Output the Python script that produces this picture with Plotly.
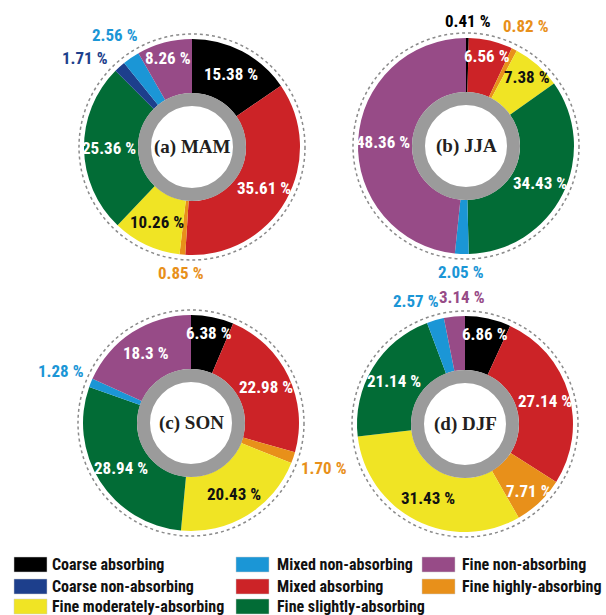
import math
import plotly.graph_objects as go

# ---- data ----
categories = ["Coarse absorbing", "Mixed absorbing", "Fine highly-absorbing",
              "Fine moderately-absorbing", "Fine slightly-absorbing",
              "Coarse non-absorbing", "Mixed non-absorbing", "Fine non-absorbing"]
colors = ["#000000", "#cc2327", "#e8901a", "#f0e424",
          "#026c36", "#1d3f8c", "#1b96d6", "#974b87"]
mam = ["15.38", "35.61", "0.85", "10.26", "25.36", "1.71", "2.56", "8.26"]
jja = ["0.41", "6.56", "0.82", "7.38", "34.43", "0", "2.05", "48.36"]
son = ["6.38", "22.98", "1.70", "20.43", "28.94", "0", "1.28", "18.3"]
djf = ["6.86", "27.14", "7.71", "31.43", "21.14", "0", "2.57", "3.14"]
season_titles = ["(a) MAM", "(b) JJA", "(c) SON", "(d) DJF"]

legend_cols = [
    ["Coarse absorbing", "Coarse non-absorbing", "Fine moderately-absorbing"],
    ["Mixed non-absorbing", "Mixed absorbing", "Fine slightly-absorbing"],
    ["Fine non-absorbing", "Fine highly-absorbing"],
]

# ---- layout geometry (pixels) ----
W, H = 606, 615
centers = [(192, 147), (466, 146), (191, 423), (465, 424)]
R = 108
RING_IN, RING_OUT = 41, 54
DOT_R = 113
LBL_W, LBL_H = 46, 16   # approx. box of an outside label

NARROW = "Roboto Condensed, Liberation Sans Narrow, DejaVu Sans Condensed, Liberation Sans, sans-serif"
SERIF = "Liberation Serif, DejaVu Serif, serif"


def fx(px):
    return px / W


def fy(py):
    return 1 - py / H


fig = go.Figure()
shapes = []
annotations = []


def label(x, y, text, font, xanchor="center"):
    annotations.append(dict(x=fx(x), y=fy(y), xref="paper", yref="paper",
                            xanchor=xanchor, yanchor="middle", showarrow=False,
                            text=text, font=font))


def off_vertical(a):
    a = a % 360
    return min(a, abs(180 - a), 360 - a)


for vals, title, (cx, cy) in zip([mam, jja, son, djf], season_titles, centers):
    v = [float(s) for s in vals]
    total = sum(v)
    fig.add_trace(go.Pie(
        labels=categories, values=v, textinfo="none",
        sort=False, direction="clockwise", rotation=0, hole=RING_OUT / R,
        marker=dict(colors=colors, line=dict(width=0)),
        domain=dict(x=[fx(cx - R), fx(cx + R)], y=[fy(cy + R), fy(cy - R)]),
        showlegend=False, hoverinfo="label+value",
    ))

    # slice labels, placed from the slice mid-angles
    cum = 0.0
    outside = []
    for s, x, col in zip(vals, v, colors):
        if x <= 0:
            continue
        theta = 360.0 * (cum + x / 2) / total
        cum += x
        if x >= 4:
            r = 83 if x >= 10 else 92
            tcol = "#111111" if col == "#f0e424" else "white"
            t = math.radians(theta)
            label(cx + r * math.sin(t), cy - r * math.cos(t), s + " %",
                  dict(family=NARROW, size=17, color=tcol, weight="bold"))
        else:
            outside.append([theta, s, col])
    # keep close outside labels apart: move the one farther from the vertical
    outside.sort(key=lambda o: o[0])
    minsep = 16
    for i in range(len(outside) - 1):
        a, b = outside[i], outside[i + 1]
        if b[0] - a[0] < minsep:
            if off_vertical(a[0]) > off_vertical(b[0]):
                a[0] = b[0] - minsep
            else:
                b[0] = a[0] + minsep
    pts = []
    for theta, s, col in outside:
        t = math.radians(theta)
        r = DOT_R + 4 + abs(math.sin(t)) * 22 + abs(math.cos(t)) * 8
        pts.append([cx + r * math.sin(t), cy - r * math.cos(t), theta, s, col])
    # remaining box overlaps: slide the label nearer the vertical sideways
    for i in range(len(pts) - 1):
        p, q = pts[i], pts[i + 1]
        dx, dy = q[0] - p[0], q[1] - p[1]
        if abs(dy) < LBL_H and abs(dx) < LBL_W:
            shift = LBL_W - abs(dx)
            sign = 1 if dx >= 0 else -1
            if off_vertical(p[2]) < off_vertical(q[2]):
                p[0] -= sign * shift
            else:
                q[0] += sign * shift
    for px, py, theta, s, col in pts:
        label(px, py, s + " %",
              dict(family=NARROW, size=17, color=col, weight="bold"))

    # dotted outer circle
    shapes.append(dict(type="circle", xref="paper", yref="paper",
                       x0=fx(cx - DOT_R), x1=fx(cx + DOT_R),
                       y0=fy(cy + DOT_R), y1=fy(cy - DOT_R),
                       line=dict(color="#8a8a8a", width=1.5, dash="dot"),
                       layer="below"))
    # grey ring
    rm = (RING_IN + RING_OUT) / 2
    shapes.append(dict(type="circle", xref="paper", yref="paper",
                       x0=fx(cx - rm), x1=fx(cx + rm),
                       y0=fy(cy + rm), y1=fy(cy - rm),
                       line=dict(color="#9b9b9b", width=RING_OUT - RING_IN)))
    label(cx, cy, "<b>" + title + "</b>",
          dict(family=SERIF, size=19, color="#231f20"))

# ---- legend (three columns) ----
swatch_x = [14, 236, 422]
text_x = [50, 275, 460]
row_y = [564, 586, 606]
cmap = dict(zip(categories, colors))
for ci, col in enumerate(legend_cols):
    for ri, name in enumerate(col):
        x0 = swatch_x[ci]
        y = row_y[ri]
        shapes.append(dict(type="rect", xref="paper", yref="paper",
                           x0=fx(x0), x1=fx(x0 + 33), y0=fy(y + 8), y1=fy(y - 7),
                           fillcolor=cmap[name], line=dict(color="#cccccc", width=0.5)))
        label(text_x[ci], y, name,
              dict(family=NARROW, size=16, color="#111111", weight="bold"),
              xanchor="left")

fig.update_layout(
    width=W, height=H, margin=dict(l=0, r=0, t=0, b=0),
    paper_bgcolor="white", plot_bgcolor="white",
    shapes=shapes, annotations=annotations,
    showlegend=False,
)
fig.write_html("out.html", config={"displayModeBar": False},
               post_script="document.body.style.margin='0px';")
